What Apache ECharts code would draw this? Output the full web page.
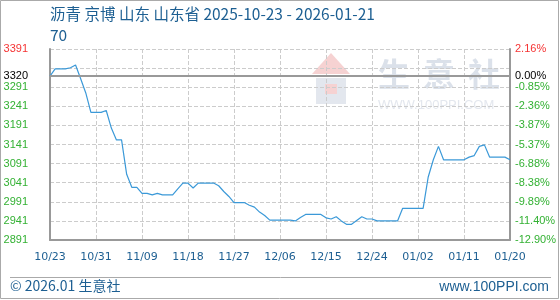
<!DOCTYPE html>
<html><head><meta charset="utf-8">
<script src="https://cdn.jsdelivr.net/npm/echarts@6/dist/echarts.min.js"></script>
<style>html,body{margin:0;padding:0;background:#fff}#c{width:560px;height:300px}</style>
</head><body><div id="c"></div>
<script>
const titleText = '沥青 京博 山东 山东省 2025-10-23 - 2026-01-21';
const subText = '70';
const xTickLabels = ['10/23','10/31','11/09','11/18','11/27','12/06','12/15','12/24','01/02','01/11','01/20'];
const prices = [
  3320,3339,3339,3339,3342,3349,3313,3276,3225,3225,
  3225,3230,3184,3153,3153,3063,3029,3029,3013,3013,
  3009,3013,3009,3009,3009,3025,3040,3040,3027,3040,
  3040,3040,3040,3033,3018,3005,2989,2989,2989,2982,
  2977,2964,2955,2943,2943,2943,2943,2943,2941,2950,
  2958,2958,2958,2958,2949,2946,2952,2941,2932,2932,
  2942,2952,2946,2946,2941,2941,2941,2941,2941,2974,
  2974,2974,2974,2974,3056,3101,3136,3101,3101,3101,
  3101,3101,3108,3112,3136,3140,3108,3108,3108,3108,
  3101
];
const leftTicks = ['2891','2941','2991','3041','3091','3141','3191','3241','3291','','3391'];
const rightTicks = ['-12.90%','-11.40%','-9.89%','-8.38%','-6.88%','-5.37%','-3.87%','-2.36%','-0.85%','','2.16%'];
const baseValue = 3320;
const baseLabelLeft = '3320';
const baseLabelRight = '0.00%';
const yMin = 2891, yMax = 3391;
const footerLeft = '© 2026.01 生意社';
const footerRight = 'www.100PPI.com';
const wmText = ['生','意','社'];
const wmSub = 'WWW.100PPI.COM';

const dayIndex = prices.map((_, i) => String(i));
const FONT = 'Liberation Sans, Arial, sans-serif';
const CJK = 'Noto Sans CJK SC, sans-serif';
const BLUE = '#1d5f92';
const GREEN = '#33b133';
const RED = '#f53333';
const AX = '#999999';

const rich = {
  g: {color: GREEN, fontSize: 11, fontFamily: FONT},
  r: {color: RED, fontSize: 11, fontFamily: FONT}
};
function tickFmt(arr) {
  return function (v) {
    const i = Math.round(v);
    const s = arr[i];
    if (!s) return '';
    return (i === arr.length - 1 ? '{r|' : '{g|') + s + '}';
  };
}

const chart = echarts.init(document.getElementById('c'), null, {renderer: 'canvas'});
chart.setOption({
  animation: false,
  backgroundColor: '#fff',
  title: {
    text: titleText + '\n' + subText,
    left: 50, top: 4, padding: 0,
    textStyle: {fontSize: 15.5, color: BLUE, fontWeight: 'normal', fontFamily: CJK, lineHeight: 21}
  },
  grid: {left: 50, right: 50, top: 49, bottom: 60, containLabel: false},
  xAxis: {
    type: 'category', data: dayIndex, boundaryGap: false,
    axisLine: {lineStyle: {color: AX, width: 2}},
    axisTick: {show: false},
    axisLabel: {
      interval: 8, margin: 12, color: BLUE, fontSize: 11, fontFamily: 'DejaVu Sans, sans-serif',
      formatter: (v, i) => xTickLabels[Math.round(i / 9)] || ''
    },
    splitLine: {show: true, interval: 8, lineStyle: {type: 'dashed', color: '#cccccc', width: 1}}
  },
  yAxis: [
    {type: 'value', min: yMin, max: yMax, show: false},
    {type: 'value', min: 0, max: 10, interval: 1, position: 'left',
     axisLine: {show: true, lineStyle: {color: AX, width: 2}},
     axisTick: {show: false},
     axisLabel: {margin: 22, formatter: tickFmt(leftTicks), rich: rich},
     splitLine: {show: true, lineStyle: {type: 'dashed', color: '#cccccc', width: 1}}},
    {type: 'value', min: 0, max: 10, interval: 1, position: 'right',
     axisLine: {show: true, lineStyle: {color: AX, width: 2}},
     axisTick: {show: false},
     axisLabel: {margin: 5, formatter: tickFmt(rightTicks), rich: rich},
     splitLine: {show: false}}
  ],
  series: [{
    type: 'line', yAxisIndex: 0, data: prices, showSymbol: false, symbol: 'none',
    lineStyle: {color: '#3b99d8', width: 1.2},
    markLine: {
      silent: true, symbol: 'none',
      lineStyle: {color: AX, width: 2, type: 'solid'},
      data: [
        {yAxis: baseValue, label: {show: true, position: 'start', distance: 22, formatter: baseLabelLeft, color: '#000', fontSize: 11, fontFamily: FONT}},
        {yAxis: baseValue, label: {show: true, position: 'end', distance: 5, formatter: baseLabelRight, color: '#000', fontSize: 11, fontFamily: FONT}}
      ]
    }
  }],
  graphic: [
    {type: 'rect', z: -10, silent: true, shape: {x: 0.5, y: 0.5, width: 558, height: 298}, style: {fill: 'none', stroke: '#aaaaaa', lineWidth: 1}},
    {type: 'polygon', z: -5, silent: true, shape: {points: [[312, 74], [331, 53], [350, 74]]}, style: {fill: '#f6d2d2'}},
    {type: 'rect', z: -5, silent: true, shape: {x: 316, y: 78, width: 30, height: 26}, style: {fill: '#e3e7ee'}},
    {type: 'rect', z: -5, silent: true, shape: {x: 325, y: 84, width: 12, height: 10}, style: {fill: '#f6d2d2'}},
    {type: 'text', z: -5, silent: true, left: 378, top: 58, style: {text: wmText[0], fontSize: 32, fill: '#dbe1ea', fontFamily: CJK, fontWeight: 'bold'}},
    {type: 'text', z: -5, silent: true, left: 423, top: 58, style: {text: wmText[1], fontSize: 32, fill: '#dbe1ea', fontFamily: CJK, fontWeight: 'bold'}},
    {type: 'text', z: -5, silent: true, left: 468, top: 58, style: {text: wmText[2], fontSize: 32, fill: '#dbe1ea', fontFamily: CJK, fontWeight: 'bold'}},
    {type: 'text', z: -5, silent: true, left: 378, top: 99, style: {text: wmSub, fontSize: 13, fill: '#e3e7ee', fontFamily: FONT}},
    {type: 'line', silent: true, shape: {x1: 10, y1: 277.5, x2: 551, y2: 277.5}, style: {stroke: '#aaaaaa', lineWidth: 1}},
    {type: 'text', silent: true, left: 10, top: 279, style: {text: footerLeft, fontSize: 14, fill: BLUE, fontFamily: CJK}},
    {type: 'text', silent: true, right: 11, top: 280, style: {text: footerRight, fontSize: 14, fill: BLUE, fontFamily: FONT}}
  ]
});
</script></body></html>
